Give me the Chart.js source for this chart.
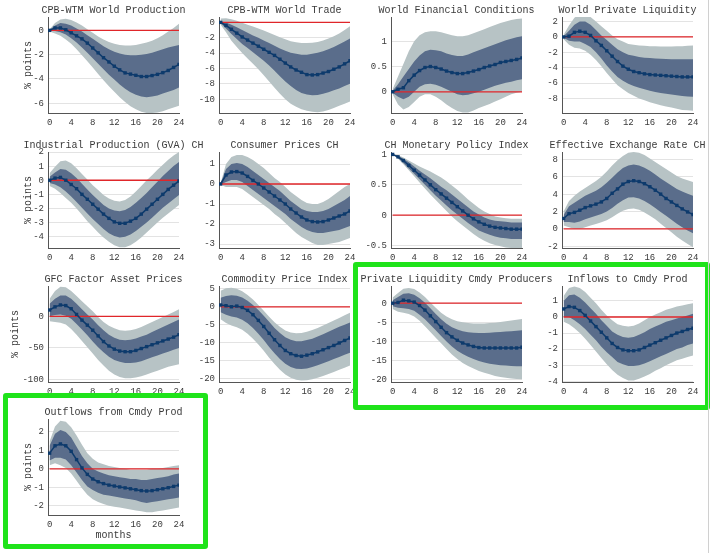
<!DOCTYPE html>
<html>
<head>
<meta charset="utf-8">
<script src="https://cdn.jsdelivr.net/npm/chart.js@4.4.1/dist/chart.umd.min.js"></script>
<style>
  body { margin: 0; background: #fff; }
  #wrap { position: relative; width: 711px; height: 553px; overflow: hidden; background: #fff; }
  #wrap canvas { position: absolute; }
  .hl { position: absolute; border: 5px solid #1fe31a; border-radius: 3px; box-sizing: border-box; }
  .edge { position: absolute; left: 708px; top: 0; width: 1px; height: 553px; background: #d0d0d0; }
</style>
</head>
<body>
<div id="wrap"></div>
<script>
const months = [0, 1, 2, 3, 4, 5, 6, 7, 8, 9, 10, 11, 12, 13, 14, 15, 16, 17, 18, 19, 20, 21, 22, 23, 24];
const monthTicks = [0, 4, 8, 12, 16, 20, 24];

const titles = [
  'CPB-WTM World Production', 'CPB-WTM World Trade', 'World Financial Conditions', 'World Private Liquidity',
  'Industrial Production (GVA) CH', 'Consumer Prices CH', 'CH Monetary Policy Index', 'Effective Exchange Rate CH',
  'GFC Factor Asset Prices', 'Commodity Price Index', 'Private Liquidity Cmdy Producers', 'Inflows to Cmdy Prod',
  'Outflows from Cmdy Prod'
];

// y axis ranges and tick labels, one per panel
const yMins = [-6.8, -11.8, -0.42, -9.9, -4.8, -3.2, -0.54, -2.2, -104, -21, -20.6, -4.05, -2.5];
const yMaxs = [1.1, 0.7, 1.48, 2.6, 2.0, 1.6, 1.04, 8.85, 48, 5.8, 4.5, 1.93, 2.7];
const yTicks = [
  [-6, -4, -2, 0], [-10, -8, -6, -4, -2, 0], [0, 0.5, 1], [-8, -6, -4, -2, 0, 2],
  [-4, -3, -2, -1, 0, 1, 2], [-3, -2, -1, 0, 1], [-0.5, 0, 0.5, 1], [-2, 0, 2, 4, 6, 8],
  [-100, -50, 0], [-20, -15, -10, -5, 0, 5], [-20, -15, -10, -5, 0], [-4, -3, -2, -1, 0, 1],
  [-2, -1, 0, 1, 2]
];

// CPB-WTM World Production
const prodMed = [0, 0.2, 0.2, 0.05, -0.2, -0.45, -0.7, -1.05, -1.45, -1.85, -2.25, -2.6, -2.95, -3.25, -3.5, -3.6, -3.7, -3.8, -3.8, -3.72, -3.62, -3.48, -3.3, -3.05, -2.8];
const prodHi68 = [0.05, 0.4, 0.6, 0.55, 0.4, 0.15, -0.1, -0.4, -0.7, -1.0, -1.3, -1.55, -1.75, -1.9, -2.0, -2.05, -2.05, -2.0, -1.95, -1.85, -1.7, -1.55, -1.4, -1.3, -1.2];
const prodLo68 = [-0.05, -0.05, -0.15, -0.35, -0.65, -1.0, -1.4, -1.85, -2.3, -2.75, -3.2, -3.65, -4.05, -4.45, -4.8, -5.1, -5.3, -5.45, -5.5, -5.45, -5.35, -5.2, -5.05, -4.9, -4.7];
const prodHi90 = [0.1, 0.6, 0.9, 0.95, 0.85, 0.65, 0.4, 0.1, -0.2, -0.5, -0.75, -0.95, -1.1, -1.2, -1.25, -1.25, -1.2, -1.1, -1.0, -0.85, -0.65, -0.4, -0.1, 0.2, 0.55];
const prodLo90 = [-0.1, -0.25, -0.45, -0.75, -1.1, -1.55, -2.05, -2.55, -3.05, -3.6, -4.1, -4.6, -5.05, -5.5, -5.9, -6.25, -6.5, -6.7, -6.8, -6.8, -6.75, -6.65, -6.5, -6.35, -6.2];

// CPB-WTM World Trade
const tradeMed = [0, -0.4, -0.9, -1.4, -1.9, -2.3, -2.7, -3.1, -3.5, -3.9, -4.3, -4.8, -5.3, -5.8, -6.2, -6.5, -6.8, -6.85, -6.8, -6.6, -6.4, -6.1, -5.8, -5.4, -5.0];
const tradeHi68 = [0.15, 0.0, -0.3, -0.65, -1.0, -1.35, -1.7, -2.0, -2.35, -2.7, -3.05, -3.4, -3.7, -3.95, -4.1, -4.2, -4.2, -4.1, -3.95, -3.75, -3.5, -3.2, -2.85, -2.5, -2.1];
const tradeLo68 = [-0.1, -0.8, -1.5, -2.15, -2.8, -3.35, -3.9, -4.45, -5.0, -5.6, -6.3, -7.0, -7.7, -8.3, -8.8, -9.2, -9.4, -9.5, -9.45, -9.3, -9.1, -8.85, -8.6, -8.3, -8.0];
const tradeHi90 = [0.5, 0.55, 0.4, 0.2, -0.05, -0.3, -0.55, -0.8, -1.05, -1.35, -1.65, -1.95, -2.2, -2.45, -2.6, -2.7, -2.7, -2.65, -2.55, -2.35, -2.1, -1.8, -1.45, -1.0, -0.5];
const tradeLo90 = [-0.3, -1.3, -2.4, -3.2, -4.0, -4.7, -5.4, -6.1, -6.9, -7.7, -8.5, -9.3, -10.0, -10.6, -11.0, -11.3, -11.5, -11.65, -11.7, -11.6, -11.4, -11.15, -10.85, -10.6, -10.3];

// World Financial Conditions
const finMed = [0, 0.05, 0.08, 0.22, 0.33, 0.42, 0.48, 0.5, 0.48, 0.45, 0.41, 0.38, 0.36, 0.36, 0.38, 0.41, 0.44, 0.48, 0.51, 0.54, 0.58, 0.6, 0.62, 0.64, 0.67];
const finHi68 = [0.02, 0.15, 0.3, 0.45, 0.6, 0.72, 0.8, 0.83, 0.82, 0.8, 0.76, 0.73, 0.71, 0.71, 0.74, 0.78, 0.82, 0.86, 0.9, 0.94, 0.98, 1.02, 1.05, 1.08, 1.1];
const finLo68 = [-0.02, -0.1, -0.15, -0.1, 0.0, 0.1, 0.15, 0.16, 0.14, 0.1, 0.05, 0.0, -0.05, -0.07, -0.06, -0.03, 0.0, 0.04, 0.08, 0.12, 0.15, 0.18, 0.2, 0.23, 0.25];
const finHi90 = [0.05, 0.3, 0.55, 0.8, 1.0, 1.12, 1.18, 1.2, 1.2, 1.18, 1.15, 1.12, 1.1, 1.1, 1.12, 1.16, 1.2, 1.24, 1.28, 1.32, 1.36, 1.39, 1.42, 1.44, 1.45];
const finLo90 = [-0.05, -0.25, -0.35, -0.3, -0.2, -0.1, -0.05, -0.05, -0.1, -0.17, -0.25, -0.32, -0.38, -0.41, -0.41, -0.37, -0.32, -0.28, -0.24, -0.19, -0.15, -0.1, -0.05, -0.02, 0.0];

// World Private Liquidity
const liqMed = [0, 0.1, 0.6, 0.75, 0.6, 0.2, -0.5, -1.1, -1.8, -2.5, -3.2, -3.8, -4.2, -4.5, -4.65, -4.8, -4.9, -4.95, -5.0, -5.05, -5.1, -5.15, -5.2, -5.2, -5.2];
const liqHi68 = [0.1, 0.8, 1.6, 2.0, 2.0, 1.6, 0.9, 0.2, -0.4, -1.0, -1.6, -2.0, -2.3, -2.45, -2.6, -2.7, -2.75, -2.8, -2.85, -2.88, -2.9, -2.9, -2.9, -2.9, -2.9];
const liqLo68 = [-0.1, -0.5, -0.6, -0.6, -0.9, -1.3, -2.0, -2.8, -3.7, -4.5, -5.2, -5.7, -6.1, -6.4, -6.6, -6.8, -7.0, -7.15, -7.3, -7.4, -7.5, -7.6, -7.7, -7.75, -7.8];
const liqHi90 = [0.3, 1.5, 2.5, 3.0, 3.0, 2.6, 2.0, 1.4, 0.8, 0.2, -0.3, -0.6, -0.9, -1.0, -1.1, -1.15, -1.2, -1.22, -1.25, -1.25, -1.25, -1.22, -1.2, -1.15, -1.1];
const liqLo90 = [-0.3, -1.0, -1.4, -1.5, -1.8, -2.3, -3.0, -3.8, -4.7, -5.5, -6.3, -6.8, -7.3, -7.65, -8.0, -8.25, -8.5, -8.7, -8.9, -9.05, -9.2, -9.35, -9.5, -9.55, -9.6];

// Industrial Production (GVA) CH
const ipMed = [0, 0.15, 0.2, 0.0, -0.3, -0.6, -1.0, -1.35, -1.7, -2.05, -2.4, -2.7, -2.95, -3.05, -3.05, -2.9, -2.7, -2.4, -2.05, -1.7, -1.35, -1.0, -0.65, -0.35, -0.05];
const ipHi68 = [0.25, 0.55, 0.8, 0.75, 0.5, 0.15, -0.25, -0.65, -1.05, -1.4, -1.75, -2.0, -2.15, -2.2, -2.1, -1.9, -1.6, -1.25, -0.9, -0.5, -0.1, 0.3, 0.65, 1.0, 1.3];
const ipLo68 = [-0.2, -0.3, -0.5, -0.8, -1.15, -1.55, -1.95, -2.35, -2.75, -3.1, -3.45, -3.75, -3.95, -4.05, -4.0, -3.85, -3.6, -3.3, -3.0, -2.65, -2.3, -1.95, -1.65, -1.35, -1.05];
const ipHi90 = [0.5, 0.95, 1.35, 1.4, 1.2, 0.85, 0.45, 0.05, -0.35, -0.7, -1.05, -1.3, -1.45, -1.5, -1.4, -1.15, -0.8, -0.4, 0.0, 0.35, 0.75, 1.1, 1.45, 1.75, 2.0];
const ipLo90 = [-0.4, -0.6, -0.9, -1.25, -1.6, -2.0, -2.45, -2.9, -3.3, -3.7, -4.05, -4.35, -4.6, -4.75, -4.75, -4.6, -4.35, -4.05, -3.7, -3.35, -3.0, -2.65, -2.35, -2.05, -1.75];

// Consumer Prices CH
const cpiMed = [0, 0.45, 0.6, 0.62, 0.55, 0.38, 0.18, 0.0, -0.2, -0.4, -0.6, -0.8, -1.0, -1.25, -1.45, -1.65, -1.8, -1.88, -1.9, -1.88, -1.8, -1.7, -1.6, -1.5, -1.35];
const cpiHi68 = [0.02, 0.75, 1.0, 1.05, 1.0, 0.85, 0.65, 0.45, 0.25, 0.05, -0.15, -0.35, -0.6, -0.85, -1.05, -1.25, -1.35, -1.4, -1.4, -1.35, -1.25, -1.1, -0.95, -0.8, -0.6];
const cpiLo68 = [-0.02, 0.1, 0.2, 0.2, 0.1, -0.1, -0.3, -0.5, -0.7, -0.9, -1.1, -1.3, -1.5, -1.75, -1.95, -2.15, -2.3, -2.4, -2.45, -2.45, -2.4, -2.35, -2.3, -2.2, -2.1];
const cpiHi90 = [0.05, 1.0, 1.35, 1.45, 1.45, 1.35, 1.2, 1.0, 0.8, 0.55, 0.3, 0.1, -0.15, -0.4, -0.6, -0.8, -0.95, -1.0, -1.0, -0.9, -0.75, -0.55, -0.35, -0.15, 0.0];
const cpiLo90 = [-0.05, -0.15, -0.15, -0.15, -0.25, -0.45, -0.65, -0.85, -1.05, -1.25, -1.5, -1.7, -1.95, -2.2, -2.45, -2.65, -2.8, -2.95, -3.05, -3.05, -3.0, -2.95, -2.9, -2.8, -2.7];

// CH Monetary Policy Index
const mpMed = [1.0, 0.96, 0.9, 0.82, 0.74, 0.66, 0.58, 0.5, 0.42, 0.35, 0.28, 0.21, 0.14, 0.07, 0.0, -0.06, -0.11, -0.15, -0.18, -0.2, -0.21, -0.22, -0.23, -0.23, -0.23];
const mpHi68 = [1.0, 0.98, 0.93, 0.87, 0.8, 0.73, 0.67, 0.61, 0.54, 0.47, 0.41, 0.34, 0.27, 0.2, 0.13, 0.06, 0.01, -0.04, -0.07, -0.09, -0.1, -0.11, -0.12, -0.12, -0.12];
const mpLo68 = [1.0, 0.94, 0.86, 0.77, 0.68, 0.59, 0.5, 0.41, 0.32, 0.24, 0.16, 0.08, 0.01, -0.06, -0.13, -0.19, -0.25, -0.29, -0.32, -0.35, -0.37, -0.38, -0.39, -0.39, -0.39];
const mpHi90 = [1.0, 0.99, 0.95, 0.9, 0.85, 0.8, 0.76, 0.72, 0.67, 0.62, 0.56, 0.49, 0.42, 0.34, 0.26, 0.19, 0.12, 0.06, 0.02, -0.02, -0.04, -0.05, -0.06, -0.06, -0.06];
const mpLo90 = [1.0, 0.93, 0.84, 0.74, 0.64, 0.54, 0.44, 0.34, 0.25, 0.16, 0.07, -0.02, -0.1, -0.17, -0.24, -0.31, -0.37, -0.42, -0.46, -0.49, -0.51, -0.53, -0.54, -0.54, -0.54];

// Effective Exchange Rate CH
const eerMed = [1.2, 1.75, 1.9, 2.15, 2.45, 2.65, 2.85, 3.1, 3.5, 4.1, 4.6, 5.15, 5.45, 5.55, 5.45, 5.2, 4.85, 4.45, 4.0, 3.5, 3.1, 2.7, 2.3, 1.95, 1.65];
const eerHi68 = [1.6, 2.6, 3.0, 3.4, 3.8, 4.1, 4.4, 4.8, 5.3, 5.9, 6.5, 7.0, 7.3, 7.4, 7.3, 7.05, 6.7, 6.25, 5.8, 5.4, 5.0, 4.6, 4.3, 4.05, 3.8];
const eerLo68 = [0.8, 0.8, 0.7, 0.85, 1.1, 1.3, 1.5, 1.7, 2.0, 2.4, 2.9, 3.3, 3.6, 3.65, 3.5, 3.2, 2.85, 2.4, 1.95, 1.5, 1.05, 0.6, 0.2, -0.2, -0.5];
const eerHi90 = [2.0, 3.2, 3.8, 4.3, 4.7, 5.1, 5.5, 6.0, 6.6, 7.3, 7.9, 8.4, 8.75, 8.85, 8.75, 8.5, 8.1, 7.7, 7.3, 6.9, 6.5, 6.1, 5.8, 5.6, 5.4];
const eerLo90 = [0.4, 0.2, 0.0, 0.0, 0.2, 0.4, 0.55, 0.75, 1.0, 1.35, 1.75, 2.1, 2.3, 2.35, 2.2, 1.9, 1.5, 1.1, 0.6, 0.1, -0.4, -0.9, -1.35, -1.75, -2.1];

// GFC Factor Asset Prices
const gfcMed = [10, 15, 18, 17, 12, 3, -6, -14, -22, -31, -40, -47, -52, -55, -56, -56, -54, -51, -48, -45, -42, -39, -36, -33, -29];
const gfcHi68 = [20, 28, 33, 33, 28, 20, 11, 3, -5, -14, -22, -29, -34, -37, -38, -37, -35, -32, -29, -25, -21, -17, -13, -9, -5];
const gfcLo68 = [0, 2, 3, 1, -4, -12, -21, -30, -40, -49, -57, -64, -69, -72, -74, -74, -73, -71, -68, -65, -62, -59, -56, -53, -50];
const gfcHi90 = [28, 40, 47, 46, 40, 32, 24, 16, 8, -1, -9, -15, -19, -22, -23, -22, -20, -17, -13, -9, -5, -1, 3, 7, 11];
const gfcLo90 = [-8, -9, -10, -13, -20, -29, -39, -49, -59, -69, -78, -86, -92, -96, -98, -98, -97, -95, -92, -89, -86, -83, -80, -78, -76];

// Commodity Price Index
const cpxMed = [0.5, 0.3, 0.0, 0.2, -0.2, -1.0, -2.2, -3.8, -5.5, -7.4, -9.2, -10.8, -12.2, -13.1, -13.6, -13.8, -13.5, -13.1, -12.6, -12.0, -11.4, -10.8, -10.1, -9.4, -8.7];
const cpxHi68 = [2.5, 3.0, 3.2, 3.1, 2.6, 1.7, 0.5, -0.9, -2.5, -4.2, -5.9, -7.3, -8.5, -9.2, -9.6, -9.6, -9.3, -8.9, -8.3, -7.7, -7.0, -6.3, -5.6, -5.0, -4.4];
const cpxLo68 = [-1.5, -2.2, -2.7, -3.0, -3.6, -4.6, -5.9, -7.5, -9.3, -11.2, -13.0, -14.6, -15.9, -16.8, -17.3, -17.4, -17.2, -16.8, -16.3, -15.8, -15.2, -14.6, -14.0, -13.4, -12.8];
const cpxHi90 = [4.5, 5.2, 5.3, 5.0, 4.3, 3.3, 2.0, 0.5, -1.1, -2.8, -4.3, -5.6, -6.6, -7.2, -7.4, -7.3, -7.0, -6.5, -5.9, -5.2, -4.5, -3.8, -3.1, -2.4, -1.7];
const cpxLo90 = [-3.5, -4.5, -5.2, -5.7, -6.4, -7.5, -8.9, -10.5, -12.3, -14.2, -16.0, -17.6, -18.9, -19.8, -20.4, -20.6, -20.5, -20.2, -19.8, -19.3, -18.8, -18.2, -17.6, -17.0, -16.4];

// Private Liquidity Cmdy Producers
const plcMed = [0, 0.2, 0.8, 0.6, 0.3, -0.6, -1.8, -3.3, -4.8, -6.3, -7.7, -8.8, -9.7, -10.4, -10.9, -11.3, -11.6, -11.7, -11.7, -11.7, -11.7, -11.7, -11.7, -11.7, -11.5];
const plcHi68 = [0.8, 1.6, 2.5, 2.6, 2.2, 1.3, 0.1, -1.3, -2.8, -4.2, -5.4, -6.3, -6.9, -7.3, -7.6, -7.7, -7.8, -7.8, -7.7, -7.6, -7.5, -7.4, -7.3, -7.2, -7.1];
const plcLo68 = [-0.8, -1.2, -1.3, -1.5, -2.0, -3.0, -4.2, -5.6, -7.1, -8.6, -10.0, -11.3, -12.4, -13.3, -14.0, -14.6, -15.1, -15.5, -15.8, -16.0, -16.2, -16.3, -16.4, -16.5, -16.5];
const plcHi90 = [1.5, 2.7, 3.8, 4.0, 3.7, 2.8, 1.6, 0.2, -1.2, -2.5, -3.5, -4.2, -4.7, -5.0, -5.2, -5.3, -5.3, -5.3, -5.2, -5.1, -4.9, -4.7, -4.5, -4.3, -4.1];
const plcLo90 = [-1.5, -2.2, -2.5, -2.8, -3.5, -4.6, -6.0, -7.5, -9.0, -10.5, -12.0, -13.4, -14.6, -15.6, -16.4, -17.1, -17.7, -18.2, -18.6, -19.0, -19.3, -19.5, -19.7, -19.8, -19.9];

// Inflows to Cmdy Prod
const infMed = [0.5, 0.65, 0.6, 0.4, 0.1, -0.25, -0.6, -0.95, -1.3, -1.65, -1.9, -2.05, -2.1, -2.1, -2.05, -1.9, -1.75, -1.6, -1.45, -1.3, -1.15, -1.0, -0.9, -0.78, -0.7];
const infHi68 = [1.0, 1.35, 1.4, 1.2, 0.9, 0.55, 0.2, -0.2, -0.55, -0.9, -1.1, -1.25, -1.3, -1.25, -1.1, -0.95, -0.75, -0.6, -0.45, -0.3, -0.2, -0.1, 0.0, 0.1, 0.2];
const infLo68 = [0.0, 0.0, -0.2, -0.45, -0.75, -1.1, -1.45, -1.85, -2.2, -2.5, -2.8, -2.95, -3.05, -3.05, -3.0, -2.9, -2.75, -2.6, -2.45, -2.3, -2.15, -2.0, -1.9, -1.75, -1.65];
const infHi90 = [1.3, 1.8, 1.9, 1.8, 1.55, 1.2, 0.85, 0.45, 0.1, -0.2, -0.45, -0.55, -0.6, -0.55, -0.4, -0.2, 0.0, 0.15, 0.3, 0.45, 0.55, 0.65, 0.72, 0.8, 0.85];
const infLo90 = [-0.3, -0.45, -0.7, -1.0, -1.35, -1.75, -2.15, -2.55, -2.95, -3.3, -3.6, -3.8, -3.95, -3.95, -3.85, -3.7, -3.55, -3.35, -3.2, -3.0, -2.85, -2.7, -2.6, -2.5, -2.4];

// Outflows from Cmdy Prod
const outMed = [0.85, 1.25, 1.35, 1.25, 0.95, 0.5, 0.05, -0.3, -0.55, -0.7, -0.8, -0.88, -0.93, -0.98, -1.03, -1.08, -1.13, -1.18, -1.2, -1.18, -1.13, -1.08, -1.02, -0.95, -0.88];
const outHi68 = [1.25, 1.9, 2.1, 2.0, 1.7, 1.2, 0.7, 0.3, 0.0, -0.15, -0.25, -0.35, -0.4, -0.45, -0.5, -0.55, -0.55, -0.6, -0.6, -0.55, -0.5, -0.45, -0.4, -0.3, -0.25];
const outLo68 = [0.45, 0.6, 0.6, 0.5, 0.2, -0.2, -0.6, -0.95, -1.15, -1.3, -1.4, -1.45, -1.5, -1.55, -1.6, -1.65, -1.7, -1.8, -1.85, -1.8, -1.75, -1.7, -1.65, -1.6, -1.55];
const outHi90 = [1.5, 2.3, 2.6, 2.55, 2.25, 1.8, 1.3, 0.85, 0.55, 0.35, 0.25, 0.15, 0.1, 0.05, 0.0, -0.05, -0.05, -0.05, -0.05, 0.0, 0.0, 0.05, 0.1, 0.15, 0.2];
const outLo90 = [0.2, 0.3, 0.2, 0.05, -0.25, -0.65, -1.05, -1.4, -1.65, -1.8, -1.9, -2.0, -2.05, -2.1, -2.15, -2.2, -2.25, -2.3, -2.35, -2.35, -2.3, -2.25, -2.2, -2.15, -2.1];

const medians = [prodMed, tradeMed, finMed, liqMed, ipMed, cpiMed, mpMed, eerMed, gfcMed, cpxMed, plcMed, infMed, outMed];
const hi68s = [prodHi68, tradeHi68, finHi68, liqHi68, ipHi68, cpiHi68, mpHi68, eerHi68, gfcHi68, cpxHi68, plcHi68, infHi68, outHi68];
const lo68s = [prodLo68, tradeLo68, finLo68, liqLo68, ipLo68, cpiLo68, mpLo68, eerLo68, gfcLo68, cpxLo68, plcLo68, infLo68, outLo68];
const hi90s = [prodHi90, tradeHi90, finHi90, liqHi90, ipHi90, cpiHi90, mpHi90, eerHi90, gfcHi90, cpxHi90, plcHi90, infHi90, outHi90];
const lo90s = [prodLo90, tradeLo90, finLo90, liqLo90, ipLo90, cpiLo90, mpLo90, eerLo90, gfcLo90, cpxLo90, plcLo90, infLo90, outLo90];

// layout (pixels)
const colLeft = [48, 219, 391, 562];
const rowTop = [17, 152, 286, 419];
const PW = 131, PH = 96, AXW = 47, TOPH = 20, RPAD = 45;

const FONT = "'Liberation Mono', 'Courier New', monospace";
const NAVY = '#0d3a6c';
const RED = '#e0262a';
const DARK = '#5a6d8b';
const LIGHT = '#b7c3c5';
const TXT = '#3a3a3a';

const wrap = document.getElementById('wrap');

// panel title, centred over the plot area (wide titles may overhang it)
const panelTitle = {
  id: 'panelTitle',
  afterDraw(chart, args, opts) {
    const { ctx, chartArea } = chart;
    ctx.save();
    ctx.font = '10px ' + FONT;
    ctx.fillStyle = TXT;
    ctx.textAlign = 'center';
    ctx.textBaseline = 'middle';
    ctx.fillText(opts.text, (chartArea.left + chartArea.right) / 2, chartArea.top - 7);
    ctx.restore();
  }
};

function pts(arr) {
  return months.map((m, k) => ({ x: m, y: arr[k] }));
}

function makePanel(i) {
  const col = i % 4, row = Math.floor(i / 4);
  const last = i === titles.length - 1;
  const xh = last ? 34 : 20;
  // "% points" sits further left when the tick labels are wide (-100)
  const yTitlePad = Math.max(...yTicks[i].map(v => String(v).length)) > 3 ? 8 : 21;
  const cv = document.createElement('canvas');
  cv.width = AXW + PW + RPAD;
  cv.height = TOPH + PH + xh;
  cv.style.left = (colLeft[col] - AXW) + 'px';
  cv.style.top = (rowTop[row] - TOPH) + 'px';
  wrap.appendChild(cv);

  const band = { borderColor: 'rgba(0,0,0,0)', borderWidth: 0, pointRadius: 0 };

  new Chart(cv.getContext('2d'), {
    type: 'line',
    plugins: [panelTitle],
    data: {
      datasets: [
        { data: pts(medians[i]), borderColor: NAVY, borderWidth: 1.5, pointStyle: 'rect', pointRadius: 2.4,
          pointBackgroundColor: NAVY, pointBorderWidth: 0, fill: false },
        { data: [{ x: months[0], y: 0 }, { x: months[months.length - 1], y: 0 }],
          borderColor: RED, borderWidth: 1.3, pointRadius: 0, fill: false },
        Object.assign({ data: pts(hi68s[i]), backgroundColor: DARK, fill: '+1' }, band),
        Object.assign({ data: pts(lo68s[i]), fill: false }, band),
        Object.assign({ data: pts(hi90s[i]), backgroundColor: LIGHT, fill: '+1' }, band),
        Object.assign({ data: pts(lo90s[i]), fill: false }, band)
      ]
    },
    options: {
      responsive: false,
      animation: false,
      devicePixelRatio: 1,
      layout: { padding: { left: 0, right: RPAD, top: TOPH, bottom: 0 } },
      plugins: {
        legend: { display: false },
        tooltip: { enabled: false },
        title: { display: false },
        panelTitle: { text: titles[i] }
      },
      scales: {
        x: {
          type: 'linear', min: -0.3, max: 24,
          afterBuildTicks: s => { s.ticks = monthTicks.map(v => ({ value: v })); },
          ticks: { padding: 4, maxRotation: 0, autoSkip: false, color: TXT,
                   font: { family: FONT, size: 9 }, callback: v => String(v) },
          grid: { display: false, drawTicks: false },
          border: { color: '#555', width: 1 },
          title: { display: last, text: 'months', color: TXT, font: { family: FONT, size: 10 },
                   padding: { top: 0, bottom: 8 } },
          afterFit: s => { s.height = xh; }
        },
        y: {
          min: yMins[i], max: yMaxs[i],
          afterBuildTicks: s => { s.ticks = yTicks[i].map(v => ({ value: v })); },
          ticks: { padding: 4, autoSkip: false, color: TXT,
                   font: { family: FONT, size: 9 }, callback: v => String(v) },
          grid: { color: '#e3e3e3', drawTicks: false },
          border: { color: '#555', width: 1 },
          title: { display: col === 0, text: '% points', color: TXT, font: { family: FONT, size: 10 },
                   padding: { top: yTitlePad, bottom: 0 } },
          afterFit: s => { s.width = AXW; }
        }
      }
    }
  });
}

for (let i = 0; i < titles.length; i++) makePanel(i);

// green highlight frames
[[353, 262, 357, 148], [3, 393, 205, 156]].forEach(b => {
  const d = document.createElement('div');
  d.className = 'hl';
  d.style.left = b[0] + 'px';
  d.style.top = b[1] + 'px';
  d.style.width = b[2] + 'px';
  d.style.height = b[3] + 'px';
  wrap.appendChild(d);
});
const edge = document.createElement('div');
edge.className = 'edge';
wrap.appendChild(edge);
</script>
</body>
</html>
